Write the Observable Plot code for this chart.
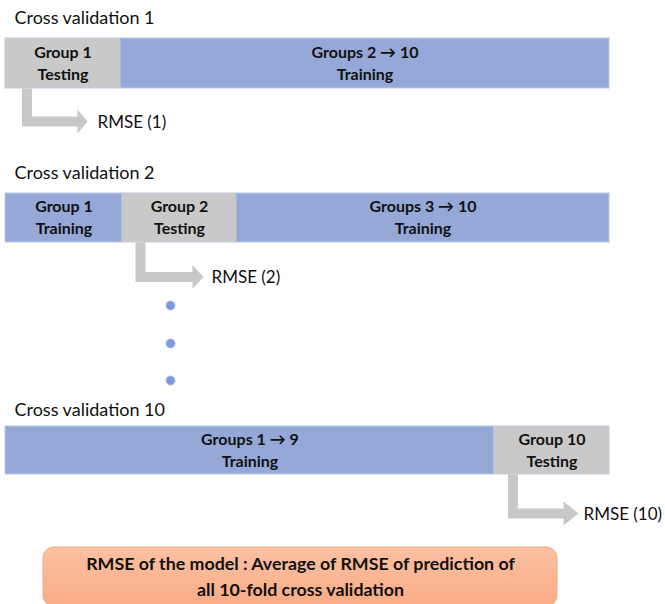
<!DOCTYPE html>
<html><head><meta charset="utf-8">
<script src="https://cdn.jsdelivr.net/npm/d3@7"></script>
<script src="https://cdn.jsdelivr.net/npm/@observablehq/plot@0.6"></script>
<style>html,body{margin:0;padding:0;background:#fff} svg{display:block}</style>
</head><body><div id="chart"></div>
<script>
// ---- data ----
const rowTitles = ["Cross validation 1", "Cross validation 2", "Cross validation 10"];
const rowTop = [38, 193, 426];
const rowBottom = [88, 242, 474];
const titleY = [18, 173, 410];

const segRow = [0, 0, 1, 1, 1, 2, 2];
const segStart = [5, 120, 5, 122, 236, 5, 494];
const segEnd = [120, 609, 122, 236, 609, 494, 609];
const segGroup = ["Group 1", "Groups 2 \u2192 10", "Group 1", "Group 2", "Groups 3 \u2192 10", "Groups 1 \u2192 9", "Group 10"];
const segRole = ["Testing", "Training", "Training", "Testing", "Training", "Training", "Testing"];

const rmseLabels = ["RMSE (1)", "RMSE (2)", "RMSE (10)"];
const arrowStemX = [26.5, 140, 512.5];
const arrowY = [121, 276.5, 513];
const arrowHeadBase = [77, 192, 563];
const arrowTip = [87, 203, 578];
const labelX = [97, 211, 583];

const ellipsisX = [170, 170, 170];
const ellipsisY = [305, 343, 380];

const summaryBox = {x1: 43, x2: 557, y1: 547, y2: 606};
const summaryLines = ["RMSE of the model : Average of RMSE of prediction of", "all 10-fold cross validation"];
const summaryY = [564, 590];

// ---- build tables ----
const segments = segRow.map((r, i) => ({
  x1: segStart[i], x2: segEnd[i], y1: rowTop[r], y2: rowBottom[r],
  group: segGroup[i], role: segRole[i],
  cx: (segStart[i] + segEnd[i]) / 2, cy: (rowTop[r] + rowBottom[r]) / 2
}));
const titles = rowTitles.map((t, i) => ({t, y: titleY[i]}));
const shaft = 10, head = 12;
const arrowPts = [];
rmseLabels.forEach((lab, i) => {
  const sx = arrowStemX[i], y0 = rowBottom[i], hy = arrowY[i], hb = arrowHeadBase[i], tip = arrowTip[i];
  const pts = [
    [sx - shaft / 2, y0], [sx + shaft / 2, y0], [sx + shaft / 2, hy - shaft / 2],
    [hb, hy - shaft / 2], [hb, hy - head], [tip, hy], [hb, hy + head],
    [hb, hy + shaft / 2], [sx - shaft / 2, hy + shaft / 2]
  ];
  pts.forEach(([x, y]) => arrowPts.push({x, y, id: i}));
});
const rmse = rmseLabels.map((t, i) => ({t, x: labelX[i], y: arrowY[i] + 1}));
const dots = ellipsisX.map((x, i) => ({x, y: ellipsisY[i]}));
const summary = summaryLines.map((t, i) => ({t, y: summaryY[i]}));

const colors = {Training: "#95a8d7", Testing: "#c9c9c9"};

const chart = Plot.plot({
  width: 665, height: 604,
  marginTop: 0, marginRight: 0, marginBottom: 0, marginLeft: 0,
  x: {domain: [0, 665], axis: null},
  y: {domain: [0, 604], range: [0, 604], axis: null},
  style: {fontFamily: "Lato, 'Open Sans', sans-serif", background: "#fff"},
  marks: [
    Plot.rect(segments, {x1: "x1", x2: "x2", y1: "y1", y2: "y2", fill: d => colors[d.role], stroke: "#b9c8e8", strokeWidth: 1}),
    Plot.rect(segments.filter(d => d.role === "Testing"), {x1: "x1", x2: "x2", y1: "y1", y2: "y2", fill: colors.Testing}),
    Plot.text(segments, {x: "cx", y: d => d.cy - 11, text: "group", fontWeight: "bold", fontSize: 16, fill: "#111"}),
    Plot.text(segments, {x: "cx", y: d => d.cy + 11, text: "role", fontWeight: "bold", fontSize: 16, fill: "#111"}),
    Plot.text(titles, {x: 14, y: "y", text: "t", textAnchor: "start", fontSize: 18, fill: "#111"}),
    Plot.line(arrowPts, {x: "x", y: "y", z: "id", curve: "linear-closed", fill: "#c8c8c8", stroke: "none"}),
    Plot.text(rmse, {x: "x", y: "y", text: "t", textAnchor: "start", fontSize: 17, fill: "#111"}),
    Plot.dot(dots, {x: "x", y: "y", r: 4.5, fill: "#7f9ad8", stroke: "#a9bbe6", strokeWidth: 1}),
    Plot.rect([summaryBox], {x1: "x1", x2: "x2", y1: "y1", y2: "y2", rx: 11, fill: "url(#sumgrad)", stroke: "#f4a57e", strokeWidth: 1}),
    Plot.text(summary, {x: 300, y: "y", text: "t", fontWeight: "bold", fontSize: 17.8, fill: "#111"})
  ]
});

const defs = d3.select(chart).insert("defs", ":first-child");
const g = defs.append("linearGradient").attr("id", "sumgrad").attr("x1", 0).attr("y1", 0).attr("x2", 0).attr("y2", 1);
g.append("stop").attr("offset", "0%").attr("stop-color", "#fcc1a3");
g.append("stop").attr("offset", "100%").attr("stop-color", "#f9ab86");

document.getElementById("chart").appendChild(chart);
</script>
</body></html>
